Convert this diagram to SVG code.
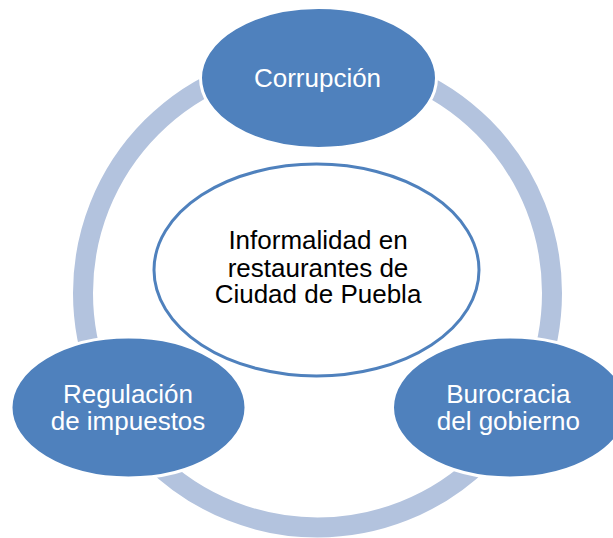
<svg xmlns="http://www.w3.org/2000/svg" width="613" height="538" viewBox="0 0 613 538">
<style>
.ring{fill:none;stroke:#b3c3de;stroke-width:20}
.node{fill:#4f81bd;stroke:#ffffff;stroke-width:3}
.center{fill:#ffffff;stroke:#4f81bd;stroke-width:3}
.lt{font-family:"Liberation Sans",Arial,sans-serif;font-size:26px;fill:#ffffff;text-anchor:middle}
.dk{font-family:"Liberation Sans",Arial,sans-serif;font-size:26px;fill:#000000;text-anchor:middle}
</style>
<rect width="613" height="538" fill="#ffffff"/>
<g id="connectors">
<circle class="ring" cx="317.5" cy="293" r="234.5"/>
</g>
<g id="center">
<ellipse class="center" cx="316.5" cy="270" rx="162.5" ry="106"/>
<text class="dk" x="318" y="249.3">Informalidad en</text>
<text class="dk" x="318" y="276.7">restaurantes de</text>
<text class="dk" x="318" y="303.3">Ciudad de Puebla</text>
</g>
<g id="corrupcion">
<ellipse class="node" cx="318.5" cy="78" rx="118" ry="70.5"/>
<text class="lt" x="317.5" y="87.3">Corrupción</text>
</g>
<g id="regulacion">
<ellipse class="node" cx="128.5" cy="407.5" rx="117.5" ry="70.5"/>
<text class="lt" x="128" y="402.7">Regulación</text>
<text class="lt" x="128" y="430">de impuestos</text>
</g>
<g id="burocracia">
<ellipse class="node" cx="510" cy="407.5" rx="117.5" ry="70.5"/>
<text class="lt" x="508.3" y="402.7">Burocracia</text>
<text class="lt" x="508.3" y="430">del gobierno</text>
</g>
</svg>
